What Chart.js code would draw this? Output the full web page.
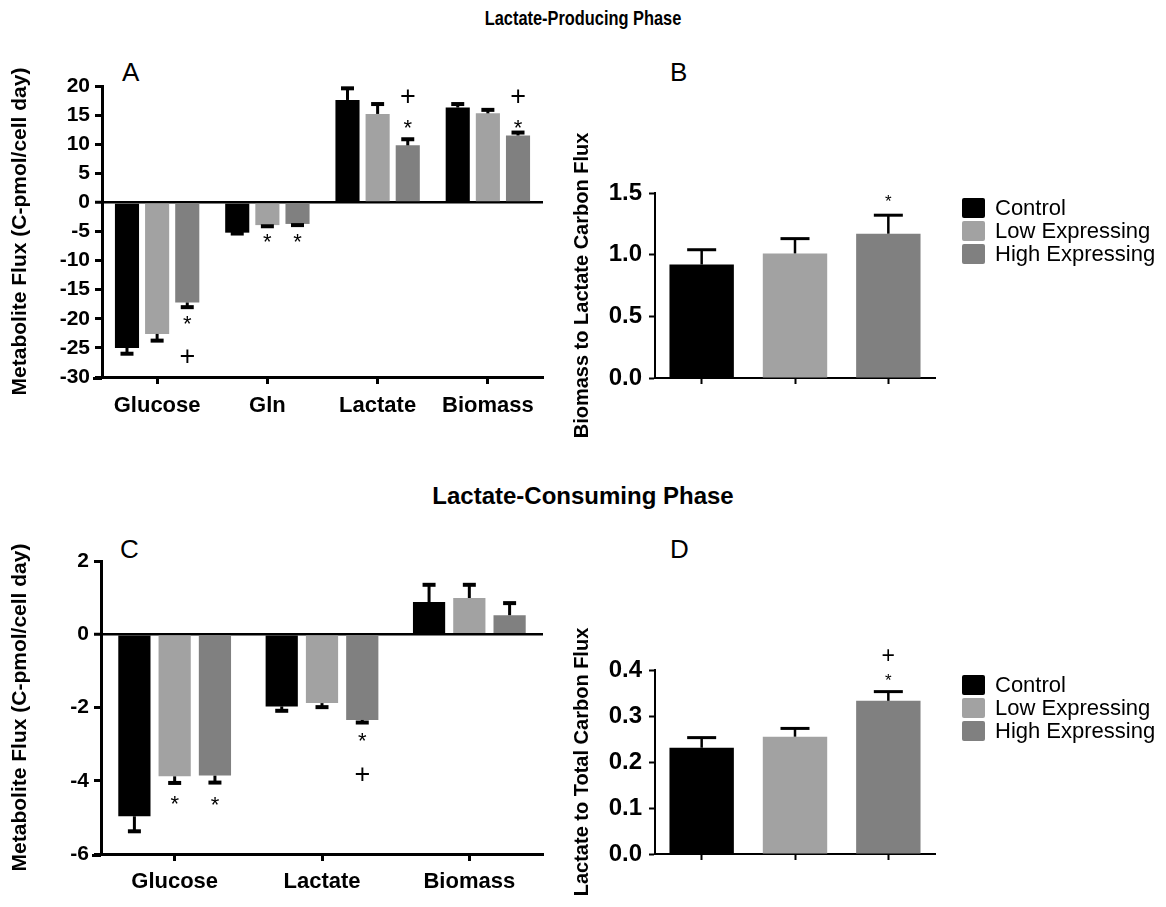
<!DOCTYPE html>
<html><head><meta charset="utf-8">
<script src="https://cdn.jsdelivr.net/npm/chart.js@4.4.1/dist/chart.umd.min.js"></script>
<style>
body{margin:0;background:#fff;width:1166px;height:907px;position:relative;overflow:hidden;font-family:"Liberation Sans",Arial,sans-serif;}
canvas{position:absolute;}
.t{position:absolute;white-space:nowrap;color:#000;}
</style></head><body>
<div class="t" style="left:0;width:1166px;top:6px;text-align:center;font-weight:bold;font-size:21px;"><span style="display:inline-block;transform:scaleX(0.78)">Lactate-Producing Phase</span></div>
<div class="t" style="left:0;width:1166px;top:482px;text-align:center;font-weight:bold;font-size:24px;">Lactate-Consuming Phase</div>
<div class="t" style="left:122px;top:57px;font-size:26px;">A</div>
<div class="t" style="left:670px;top:57px;font-size:26px;">B</div>
<div class="t" style="left:120px;top:534px;font-size:26px;">C</div>
<div class="t" style="left:670px;top:534px;font-size:26px;">D</div>
<canvas id="cA" width="560" height="400" style="left:0;top:40px"></canvas>
<canvas id="cB" width="606" height="400" style="left:560px;top:40px"></canvas>
<canvas id="cC" width="560" height="397" style="left:0;top:510px"></canvas>
<canvas id="cD" width="606" height="397" style="left:560px;top:510px"></canvas>
<script>
// ---------- data ----------
const groups = ['Control', 'Low Expressing', 'High Expressing'];
const colors = ['#000000', '#a2a2a2', '#808080'];

// Panel A: lactate-producing phase fluxes
const categoriesA = ['Glucose', 'Gln', 'Lactate', 'Biomass'];
const controlA = [-25.0, -5.2, 17.6, 16.3];
const lowA = [-22.6, -3.9, 15.2, 15.3];
const highA = [-17.2, -3.7, 9.8, 11.5];
const controlAErr = [1.0, 0.15, 2.0, 0.6];
const lowAErr = [1.15, 0.2, 1.7, 0.6];
const highAErr = [0.8, 0.2, 1.05, 0.5];
const yTicksA = [20, 15, 10, 5, 0, -5, -10, -15, -20, -25, -30];
const marksA = [
  {cat: 0, ds: 2, text: '*', y: -19.9}, {cat: 0, ds: 2, text: '+', y: -26.4},
  {cat: 1, ds: 1, text: '*', y: -5.8}, {cat: 1, ds: 2, text: '*', y: -5.8},
  {cat: 2, ds: 2, text: '*', y: 13.8}, {cat: 2, ds: 2, text: '+', y: 18.3},
  {cat: 3, ds: 2, text: '*', y: 13.8}, {cat: 3, ds: 2, text: '+', y: 18.3}
];

// Panel B: biomass to lactate carbon flux
const valuesB = [0.92, 1.01, 1.17];
const errB = [0.12, 0.12, 0.15];
const yTicksB = [0, 0.5, 1.0, 1.5];
const marksB = [{cat: 2, ds: 2, text: '*', y: 1.47}];

// Panel C: lactate-consuming phase fluxes
const categoriesC = ['Glucose', 'Lactate', 'Biomass'];
const controlC = [-4.97, -1.97, 0.88];
const lowC = [-3.88, -1.88, 0.99];
const highC = [-3.86, -2.34, 0.52];
const controlCErr = [0.41, 0.12, 0.47];
const lowCErr = [0.18, 0.11, 0.36];
const highCErr = [0.19, 0.07, 0.33];
const yTicksC = [2, 0, -2, -4, -6];
const marksC = [
  {cat: 0, ds: 1, text: '*', y: -4.47}, {cat: 0, ds: 2, text: '*', y: -4.5},
  {cat: 1, ds: 2, text: '*', y: -2.75}, {cat: 1, ds: 2, text: '+', y: -3.79}
];

// Panel D: lactate to total carbon flux
const valuesD = [0.231, 0.255, 0.333];
const errD = [0.022, 0.018, 0.020];
const yTicksD = [0, 0.1, 0.2, 0.3, 0.4];
const marksD = [{cat: 2, ds: 2, text: '*', y: 0.387}, {cat: 2, ds: 2, text: '+', y: 0.433}];

// ---------- plugins ----------
const FONT = '"Liberation Sans", Arial, sans-serif';
Chart.defaults.font.family = FONT;
Chart.defaults.color = '#000';

const errorBarPlugin = {
  id: 'errbars',
  afterDatasetsDraw(chart, args, opts) {
    const ctx = chart.ctx, ys = chart.scales.y;
    chart.data.datasets.forEach((ds, di) => {
      if (!ds.errors) return;
      const meta = chart.getDatasetMeta(di);
      meta.data.forEach((bar, i) => {
        const v = ds.data[i], e = ds.errors[i];
        if (v == null || e == null) return;
        const end = v + (v < 0 ? -e : e);
        const y0 = ys.getPixelForValue(v), y1 = ys.getPixelForValue(end);
        ctx.save();
        ctx.strokeStyle = '#000';
        ctx.lineWidth = opts.width;
        ctx.beginPath();
        ctx.moveTo(bar.x, y0); ctx.lineTo(bar.x, y1);
        ctx.stroke();
        ctx.lineWidth = opts.capWidth;
        ctx.beginPath();
        ctx.moveTo(bar.x - opts.cap / 2, y1); ctx.lineTo(bar.x + opts.cap / 2, y1);
        ctx.stroke();
        ctx.restore();
      });
    });
  }
};

const markerPlugin = {
  id: 'marks',
  afterDatasetsDraw(chart, args, opts) {
    const ctx = chart.ctx, ys = chart.scales.y;
    (opts.items || []).forEach(m => {
      const bar = chart.getDatasetMeta(m.ds).data[m.cat];
      const yy = ys.getPixelForValue(m.y);
      const size = m.text === '*' ? opts.starSize : opts.plusSize;
      const off = m.text === '*' ? 0.58 : 0.35;
      ctx.save();
      ctx.fillStyle = '#000';
      ctx.font = size + 'px ' + FONT;
      ctx.textAlign = 'center';
      ctx.textBaseline = 'alphabetic';
      ctx.fillText(m.text, bar.x, yy + off * size);
      ctx.restore();
    });
  }
};

const axisExtendPlugin = {
  id: 'axisExtend',
  afterDraw(chart, args, opts) {
    if (!opts.length) return;
    const a = chart.chartArea, ctx = chart.ctx;
    ctx.save();
    ctx.strokeStyle = '#000';
    ctx.lineWidth = opts.width;
    ctx.beginPath();
    ctx.moveTo(a.left - opts.length, a.bottom + opts.width / 2);
    ctx.lineTo(a.left, a.bottom + opts.width / 2);
    ctx.stroke();
    ctx.restore();
  }
};

const sideLegendPlugin = {
  id: 'sideLegend',
  afterDraw(chart, args, opts) {
    if (!opts.show) return;
    const a = chart.chartArea, ctx = chart.ctx;
    chart.data.datasets.forEach((ds, i) => {
      const cy = a.top + opts.first + i * opts.step;
      const x = a.right + opts.gap;
      ctx.save();
      ctx.fillStyle = ds.backgroundColor;
      ctx.beginPath();
      ctx.roundRect(x, cy - opts.bh / 2, opts.bw, opts.bh, 2);
      ctx.fill();
      ctx.fillStyle = '#000';
      ctx.font = opts.fontSize + 'px ' + FONT;
      ctx.textAlign = 'left';
      ctx.textBaseline = 'middle';
      ctx.fillText(ds.label, x + opts.bw + opts.textGap, cy + 1);
      ctx.restore();
    });
  }
};

// ---------- builders ----------
function fluxChart(id, cats, series, errs, ticks, marks, L) {
  return new Chart(document.getElementById(id), {
    type: 'bar',
    data: {
      labels: cats,
      datasets: series.map((d, i) => ({
        label: groups[i], data: d, errors: errs[i],
        backgroundColor: colors[i], borderWidth: 0,
        categoryPercentage: 0.82, barPercentage: 0.8
      }))
    },
    options: {
      responsive: false, animation: false,
      layout: {padding: {left: 0, top: L.top, right: L.right, bottom: 0}},
      plugins: {
        legend: {display: false}, tooltip: {enabled: false},
        errbars: {width: 3, capWidth: 4, cap: 13},
        marks: {items: marks, starSize: 22, plusSize: 27},
        sideLegend: {show: false},
        axisExtend: {length: 9, width: 3}
      },
      scales: {
        x: {
          type: 'category', offset: true,
          afterFit: s => { s.height = L.xh; },
          border: {color: '#000', width: 3},
          grid: {offset: false, drawOnChartArea: false, tickLength: 7, tickWidth: 3, tickColor: '#000', color: '#000'},
          ticks: {font: {size: 22, weight: 'bold'}, color: '#000', padding: L.xpad, maxRotation: 0, autoSkip: false}
        },
        y: {
          min: ticks[ticks.length - 1], max: ticks[0],
          afterBuildTicks: s => { s.ticks = ticks.map(v => ({value: v})); },
          afterFit: s => { s.width = L.yw; },
          border: {color: '#000', width: 3},
          grid: {
            color: c => (c.tick && c.tick.value === 0) ? '#000' : 'rgba(0,0,0,0)',
            lineWidth: c => (c.tick && c.tick.value === 0) ? 2.5 : 1,
            tickColor: '#000', tickWidth: 3, tickLength: 7, drawOnChartArea: true
          },
          ticks: {font: {size: 21, weight: 'bold'}, color: '#000', padding: 5, autoSkip: false},
          title: {display: true, text: 'Metabolite Flux (C-pmol/cell day)', font: {size: 21, weight: 'bold'}, color: '#000', padding: {top: 8, bottom: 0}}
        }
      }
    },
    plugins: [errorBarPlugin, markerPlugin, sideLegendPlugin, axisExtendPlugin]
  });
}

function ratioChart(id, values, errs, ticks, marks, title, L) {
  return new Chart(document.getElementById(id), {
    type: 'bar',
    data: {
      labels: groups,
      datasets: groups.map((g, i) => ({
        label: g,
        data: values.map((v, j) => j === i ? v : null),
        errors: errs.map((e, j) => j === i ? e : null),
        backgroundColor: colors[i], borderWidth: 0, grouped: false,
        categoryPercentage: 1, barPercentage: 0.69
      }))
    },
    options: {
      responsive: false, animation: false,
      layout: {padding: {left: 0, top: L.top, right: L.right, bottom: 0}},
      plugins: {
        legend: {display: false}, tooltip: {enabled: false},
        errbars: {width: 2.5, capWidth: 3, cap: 29},
        marks: {items: marks, starSize: 17, plusSize: 23},
        sideLegend: {show: true, gap: 27, first: 15, step: 23, bw: 23, bh: 20, textGap: 10, fontSize: 22},
        axisExtend: {length: 0}
      },
      scales: {
        x: {
          type: 'category', offset: true,
          afterFit: s => { s.height = L.xh; },
          border: {color: '#000', width: 2},
          grid: {offset: false, drawOnChartArea: false, tickLength: 6, tickWidth: 2, tickColor: '#000', color: '#000'},
          ticks: {callback: () => '', padding: 0}
        },
        y: {
          min: ticks[0], max: ticks[ticks.length - 1],
          afterBuildTicks: s => { s.ticks = ticks.map(v => ({value: v})); },
          afterFit: s => { s.width = L.yw; },
          border: {color: '#000', width: 2},
          grid: {drawOnChartArea: false, tickColor: '#000', tickWidth: 2, tickLength: 6, color: '#000'},
          ticks: {font: {size: 24, weight: 'bold'}, color: '#000', padding: 7, autoSkip: false, callback: v => Number(v).toFixed(1)},
          title: {display: true, text: title, font: {size: 20, weight: 'bold'}, color: '#000', padding: {top: 10, bottom: 0}}
        }
      }
    },
    plugins: [errorBarPlugin, markerPlugin, sideLegendPlugin, axisExtendPlugin]
  });
}

fluxChart('cA', categoriesA, [controlA, lowA, highA], [controlAErr, lowAErr, highAErr], yTicksA, marksA,
  {top: 46, right: 17, xh: 63, yw: 102, xpad: 9});
ratioChart('cB', valuesB, errB, yTicksB, marksB, 'Biomass to Lactate Carbon Flux',
  {top: 153, right: 231, xh: 62, yw: 95});
fluxChart('cC', categoriesC, [controlC, lowC, highC], [controlCErr, lowCErr, highCErr], yTicksC, marksC,
  {top: 51, right: 17, xh: 53, yw: 101, xpad: 8});
ratioChart('cD', valuesD, errD, yTicksD, marksD, 'Lactate to Total Carbon Flux',
  {top: 160, right: 231, xh: 53, yw: 95});
</script>
</body></html>
